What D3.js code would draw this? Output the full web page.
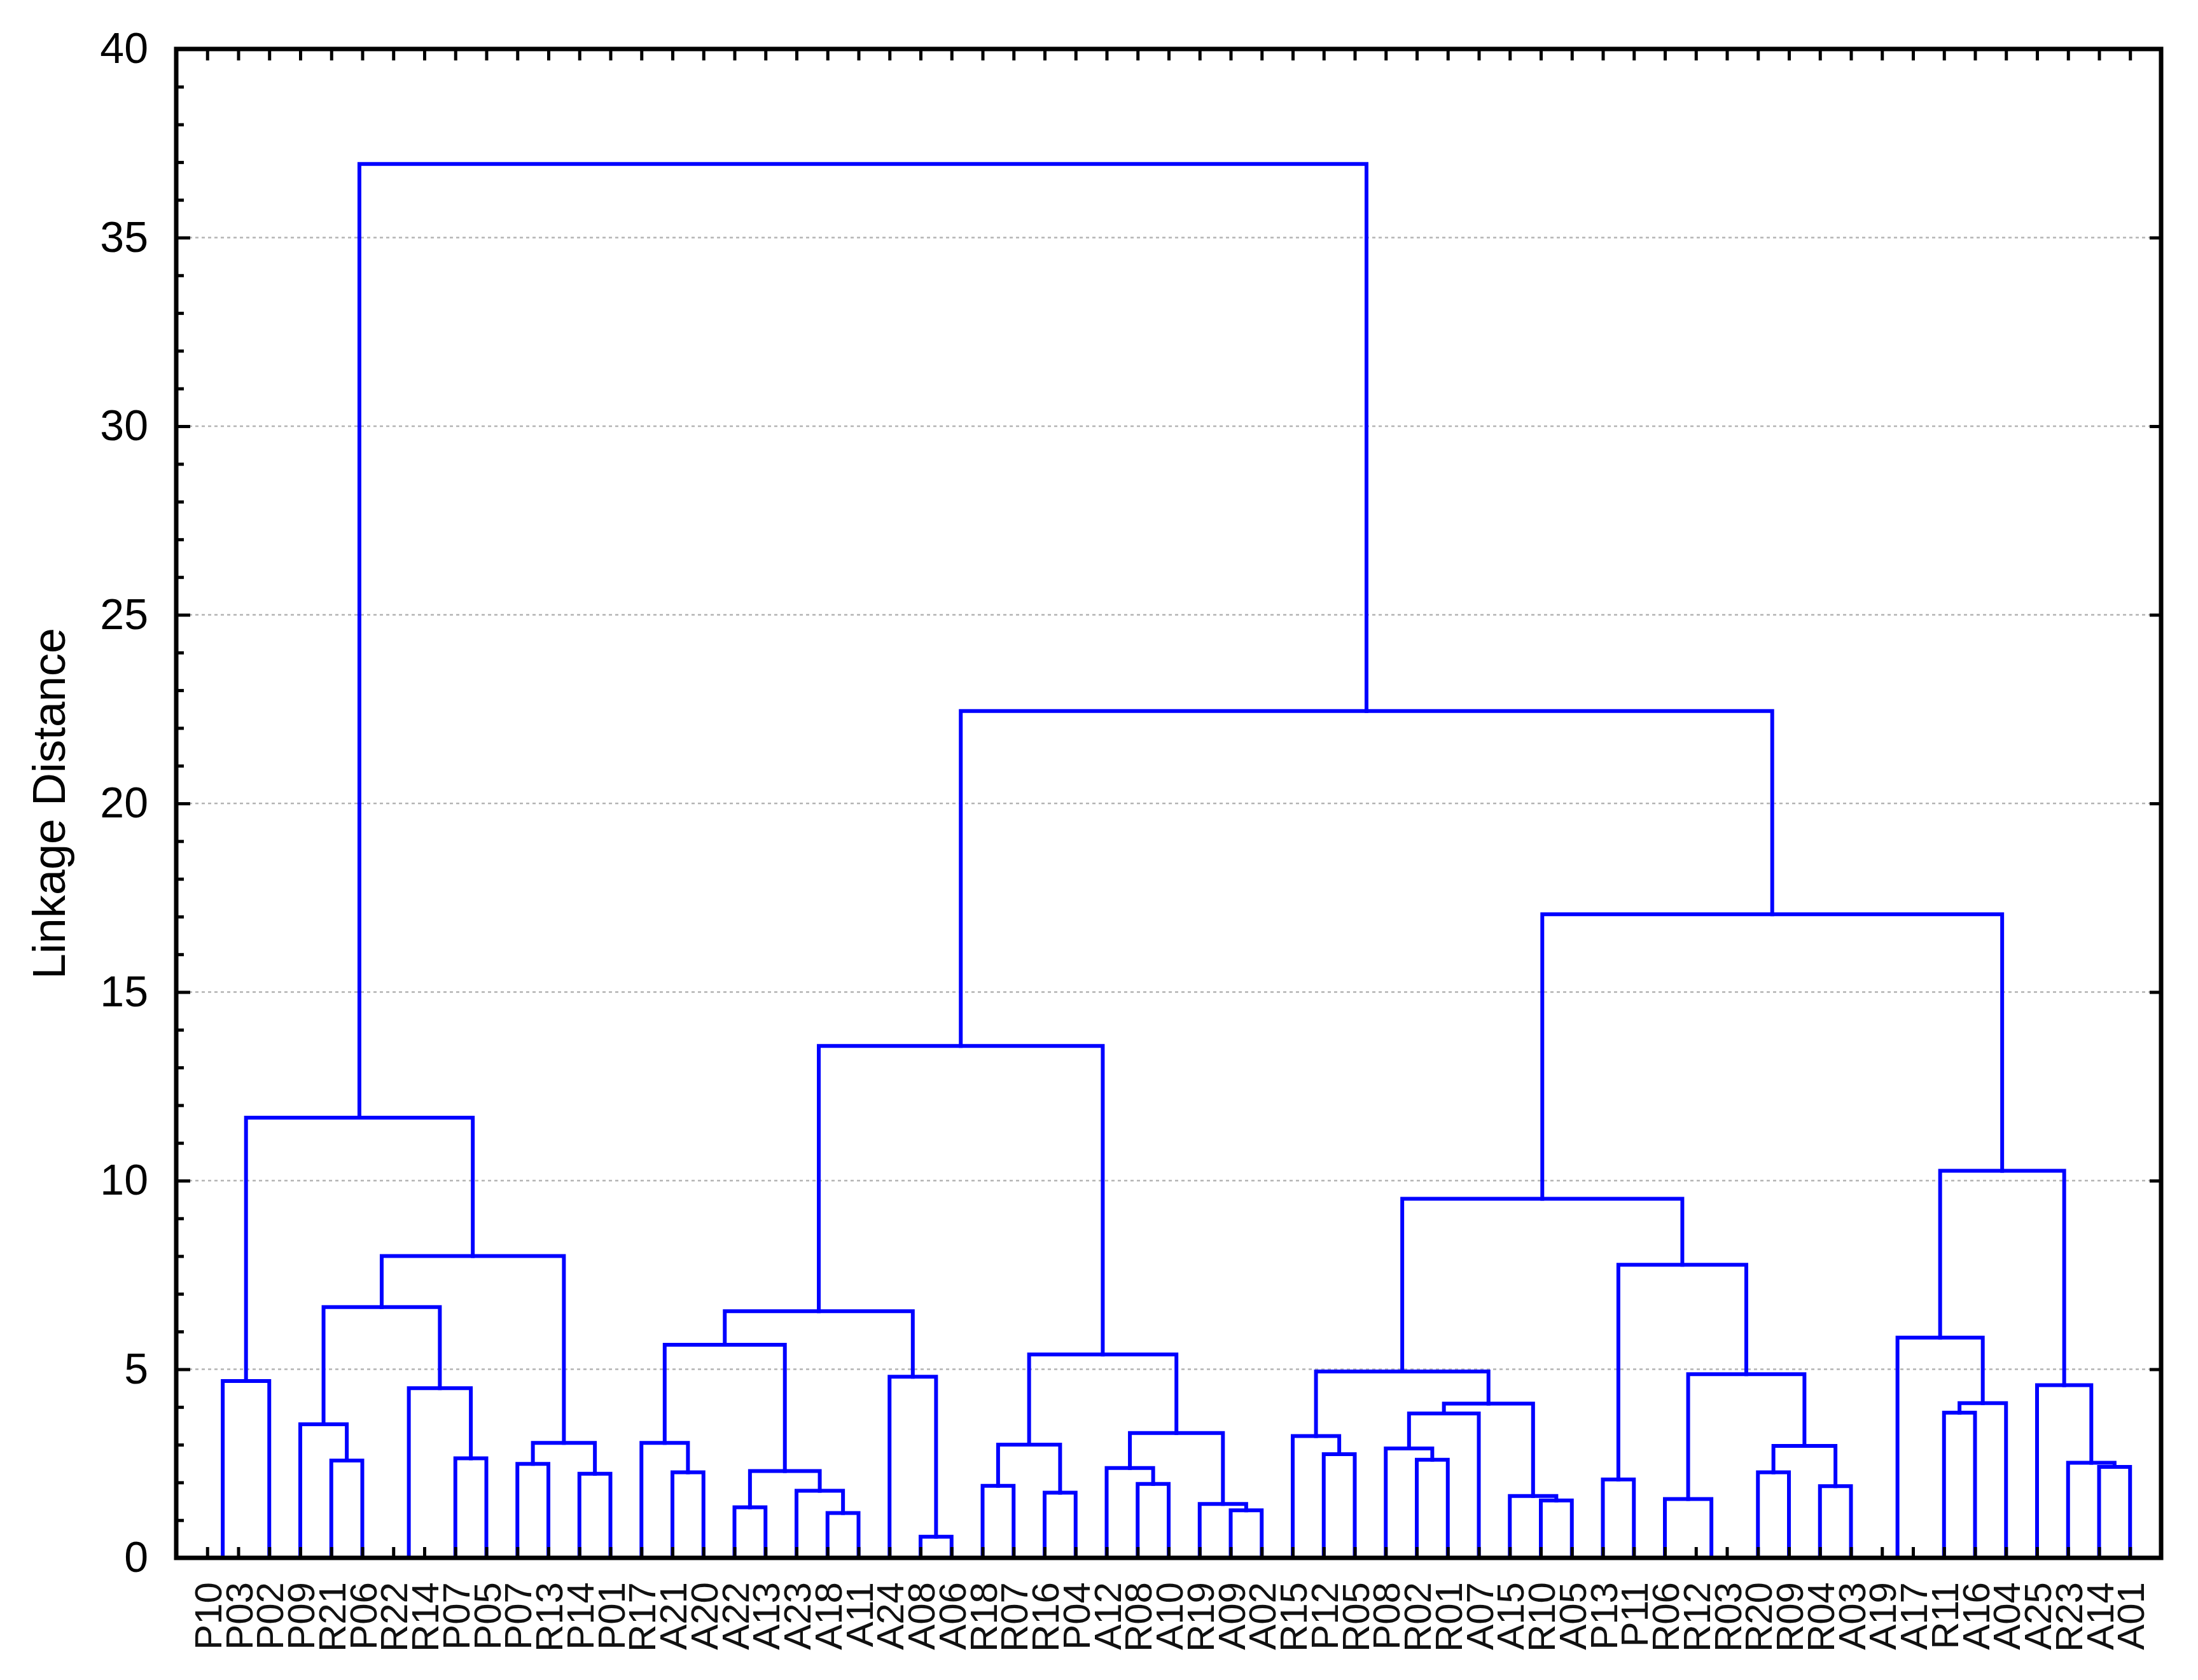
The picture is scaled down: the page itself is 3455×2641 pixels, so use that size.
<!DOCTYPE html>
<html>
<head>
<meta charset="utf-8">
<script src="https://cdn.jsdelivr.net/npm/d3@7"></script>
<style>
  html, body { margin: 0; padding: 0; background: #fff; }
  svg { display: block; }
</style>
</head>
<body>
<script>
// ---- data ----
const leafLabels = ["P10","P03","P02","P09","R21","P06","R22","R14","P07","P05","P07","R13","P14","P01","R17",
  "A21","A20","A22","A13","A23","A18","A11","A24","A08","A06","R18","R07","R16","P04","A12","R08","A10","R19",
  "A09","A02","R15","P12","R05","P08","R02","R01","A07","A15","R10","A05","P13","P11","R06","R12","R03","R20",
  "R09","R04","A03","A19","A17","R11","A16","A04","A25","R23","A14","A01"];

// merges: cluster ids 0..62 are leaves, merge k creates id 63+k
const mergePairs = [
  [0,1],[63,2],[4,5],[3,65],[6,7],[8,9],[67,68],[66,69],[10,11],[12,13],[71,72],[70,73],[64,74],
  [15,16],[14,76],[17,18],[20,21],[19,79],[78,80],[77,81],[23,24],[22,83],[82,84],
  [25,26],[27,28],[86,87],[30,31],[29,89],[33,34],[32,91],[90,92],[88,93],[85,94],
  [36,37],[35,96],[39,40],[38,98],[99,41],[43,44],[42,101],[100,102],[97,103],
  [45,46],[48,49],[47,106],[50,51],[52,53],[108,109],[107,110],[105,111],[104,112],
  [54,55],[56,57],[115,58],[114,116],[61,62],[60,118],[59,119],[117,120],[113,121],
  [95,122],[75,123]
];
const mergeHeights = [
  0, 4.69, 2.58, 3.54, 0, 2.64, 4.5, 6.65, 2.49, 2.23, 3.05, 8.0, 11.67,
  2.27, 3.05, 1.34, 1.19, 1.78, 2.3, 5.65, 0.56, 4.8, 6.54,
  1.91, 1.73, 3.0, 1.96, 2.38, 1.26, 1.43, 3.31, 5.39, 13.57,
  2.75, 3.23, 2.6, 2.9, 3.83, 1.52, 1.64, 4.09, 4.94,
  2.08, 0, 1.56, 2.27, 1.9, 2.97, 4.87, 7.77, 9.52,
  0, 3.85, 4.1, 5.84, 2.41, 2.52, 4.58, 10.26, 17.06,
  22.45, 36.95
];
const yMajorTicks = [0,5,10,15,20,25,30,35,40];
const yTitle = "Linkage Distance";

// ---- layout ----
const W = 3455, H = 2641;
const PL = 277, PR = 3397, PT = 77, PB = 2449;
const n = leafLabels.length;

const svg = d3.select("body").append("svg").attr("width", W).attr("height", H)
  .style("font-family", "'Liberation Sans', Arial, sans-serif");

const x = d3.scaleLinear().domain([0, n + 1]).range([PL, PR]);
const y = d3.scaleLinear().domain([0, 40]).range([PB, PT]);

// grid
svg.append("g").selectAll("line")
  .data(yMajorTicks.filter(v => v > 0 && v < 40))
  .join("line")
  .attr("x1", PL).attr("x2", PR)
  .attr("y1", d => y(d)).attr("y2", d => y(d))
  .attr("stroke", "#b4b4b4").attr("stroke-width", 2.5)
  .attr("stroke-dasharray", "5,5");

// compute node positions
const nodeX = [], nodeH = [];
for (let i = 0; i < n; i++) { nodeX[i] = x(i + 1); nodeH[i] = 0; }
mergePairs.forEach((p, k) => {
  const id = n + k;
  nodeX[id] = (nodeX[p[0]] + nodeX[p[1]]) / 2;
  nodeH[id] = mergeHeights[k];
});

// links
svg.append("g").selectAll("path")
  .data(mergePairs.map((p, k) => ({a: p[0], b: p[1], h: mergeHeights[k]})))
  .join("path")
  .attr("d", d => {
    const p = d3.path();
    p.moveTo(nodeX[d.a], y(nodeH[d.a]));
    p.lineTo(nodeX[d.a], y(d.h));
    p.lineTo(nodeX[d.b], y(d.h));
    p.lineTo(nodeX[d.b], y(nodeH[d.b]));
    return p.toString();
  })
  .attr("fill", "none").attr("stroke", "#0000ff").attr("stroke-width", 6)
  .attr("stroke-linejoin", "miter").attr("stroke-linecap", "square");

// axes
const leafTicks = d3.range(1, n + 1);
const gBottom = svg.append("g").attr("transform", `translate(0,${PB})`)
  .call(d3.axisBottom(x).tickValues(leafTicks).tickSizeInner(-17).tickSizeOuter(0)
        .tickFormat(i => leafLabels[i - 1]));
gBottom.selectAll("text")
  .attr("transform", "rotate(-90)")
  .attr("x", -38).attr("y", 0).attr("dy", "0.36em")
  .style("text-anchor", "end").style("font-size", "60px").attr("fill", "#111");

svg.append("g").attr("transform", `translate(0,${PT})`)
  .call(d3.axisTop(x).tickValues(leafTicks).tickSizeInner(-18).tickSizeOuter(0).tickFormat(""));

const gLeft = svg.append("g").attr("transform", `translate(${PL},0)`)
  .call(d3.axisLeft(y).tickValues(yMajorTicks).tickSizeInner(-22).tickSizeOuter(0).tickPadding(44));
gLeft.selectAll("text").style("font-size", "68px").attr("fill", "#000");

svg.append("g").attr("transform", `translate(${PL},0)`)
  .call(d3.axisLeft(y).tickValues(d3.range(0, 41).filter(v => v % 5 !== 0)).tickSizeInner(-12).tickSizeOuter(0).tickFormat(""));

svg.append("g").attr("transform", `translate(${PR},0)`)
  .call(d3.axisRight(y).tickValues(yMajorTicks).tickSizeInner(-18).tickSizeOuter(0).tickFormat(""));

svg.selectAll(".domain").remove();
svg.selectAll(".tick line").attr("stroke", "#000").attr("stroke-width", 5);

// frame
svg.append("rect").attr("x", PL).attr("y", PT).attr("width", PR - PL).attr("height", PB - PT)
  .attr("fill", "none").attr("stroke", "#000").attr("stroke-width", 7);

// y title
svg.append("text")
  .attr("transform", `translate(77,${(PT + PB) / 2}) rotate(-90)`)
  .attr("text-anchor", "middle").attr("dy", "0.35em")
  .style("font-size", "72px").attr("fill", "#000")
  .text(yTitle);
</script>
</body>
</html>
